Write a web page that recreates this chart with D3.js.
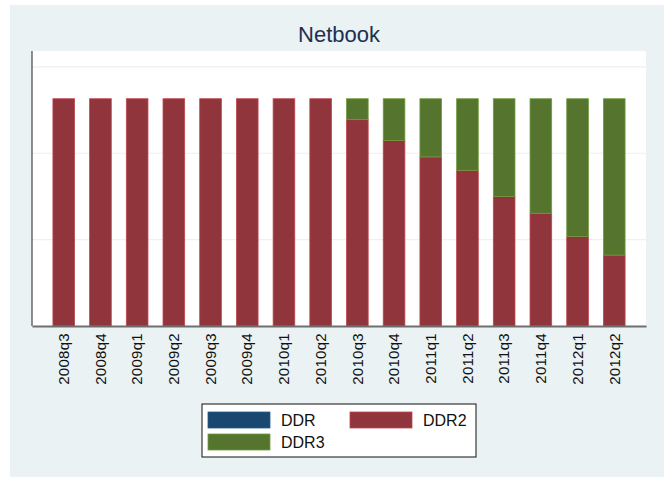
<!DOCTYPE html>
<html>
<head>
<meta charset="utf-8">
<script src="https://d3js.org/d3.v7.min.js"></script>
<style>
  body { margin: 0; background: #fff; }
  text { font-family: "Liberation Sans", Arial, sans-serif; }
</style>
</head>
<body>
<script>
// datos (participacion en %)
const quarters = ["2008q3","2008q4","2009q1","2009q2","2009q3","2009q4","2010q1","2010q2",
                  "2010q3","2010q4","2011q1","2011q2","2011q3","2011q4","2012q1","2012q2"]
const ddr  = [0,0,0,0,0,0,0,0,0,0,0,0,0,0,0,0]
const ddr2 = [100,100,100,100,100,100,100,100,90.8,81.6,74.4,68.5,57.0,49.6,39.4,31.2]
const ddr3 = [0,0,0,0,0,0,0,0,9.2,18.4,25.6,31.5,43.0,50.4,60.6,68.8]
const yTicks = [0, 38, 76, 114]
const seriesNames = ["DDR","DDR2","DDR3"]
const colores = ["#1a476f","#90353b","#55752f"]

const datos = quarters.map((q, i) => ({q: q, DDR: ddr[i], DDR2: ddr2[i], DDR3: ddr3[i]}))

var svg = d3.select("body").append("svg")
    .attr("width", 671)
    .attr("height", 477)

// fondo
svg.append("rect")
    .attr("x", 10).attr("y", 5)
    .attr("width", 654).attr("height", 472)
    .attr("fill", "#eaf2f3")

var margin = {top: 51, left: 32, right: 646, bottom: 326}

svg.append("rect")
    .attr("x", margin.left).attr("y", margin.top)
    .attr("width", margin.right - margin.left).attr("height", margin.bottom - margin.top)
    .attr("fill", "#fff")

svg.append("text")
    .attr("x", 339).attr("y", 42)
    .attr("text-anchor", "middle")
    .attr("font-size", 22)
    .attr("fill", "#1e2f52")
    .text("Netbook")

var x = d3.scaleBand()
    .domain(quarters)
    .range([margin.left, margin.right])
    .paddingInner(0.41)
    .paddingOuter(0.57)

var y = d3.scaleLinear()
    .domain([0, 121])
    .range([margin.bottom, margin.top])

// grid
svg.append("g")
    .selectAll("line")
    .data(yTicks.slice(1))
    .join("line")
        .attr("x1", margin.left).attr("x2", margin.right)
        .attr("y1", d => y(d)).attr("y2", d => y(d))
        .attr("stroke", "#eaf2f3")
        .attr("stroke-width", 1.2)

var stack = d3.stack().keys(seriesNames)(datos)

svg.append("g")
    .selectAll("g")
    .data(stack)
    .join("g")
        .attr("fill", (d, i) => colores[i])
        .attr("stroke", (d, i) => d3.color(colores[i]).brighter(0.8))
        .attr("stroke-width", 0.8)
    .selectAll("rect")
    .data(d => d.filter(p => p[1] > p[0]))
    .join("rect")
        .attr("x", d => x(d.data.q))
        .attr("width", x.bandwidth())
        .attr("y", d => y(d[1]))
        .attr("height", d => y(d[0]) - y(d[1]))

// ejes
svg.append("line")
    .attr("x1", margin.left).attr("x2", margin.left)
    .attr("y1", margin.top).attr("y2", margin.bottom)
    .attr("stroke", "#222").attr("stroke-width", 1)

var ejeX = svg.append("g")
    .attr("transform", "translate(0," + margin.bottom + ")")
    .call(d3.axisBottom(x).tickSize(0).tickPadding(0))
ejeX.select(".domain")
    .attr("stroke", "#6e6e6e").attr("stroke-width", 2)
ejeX.selectAll("text")
    .attr("font-size", 15)
    .attr("letter-spacing", 0.3)
    .attr("fill", "#111")
    .attr("text-anchor", "end")
    .attr("dy", "0.35em")
    .attr("transform", "translate(0,7) rotate(-90)")

// leyenda
var ley = svg.append("g")
ley.append("rect")
    .attr("x", 202).attr("y", 404)
    .attr("width", 274).attr("height", 53)
    .attr("fill", "#fff").attr("stroke", "#111").attr("stroke-width", 1)

var posLey = [[208, 412], [350, 412], [208, 434]]
seriesNames.forEach(function(s, i) {
    ley.append("rect")
        .attr("x", posLey[i][0]).attr("y", posLey[i][1])
        .attr("width", 62).attr("height", 16)
        .attr("fill", colores[i])
        .attr("stroke", d3.color(colores[i]).brighter(0.8)).attr("stroke-width", 0.8)
    ley.append("text")
        .attr("x", posLey[i][0] + 73).attr("y", posLey[i][1] + 14)
        .attr("font-size", 16)
        .attr("fill", "#111")
        .text(s)
})
</script>
</body>
</html>
